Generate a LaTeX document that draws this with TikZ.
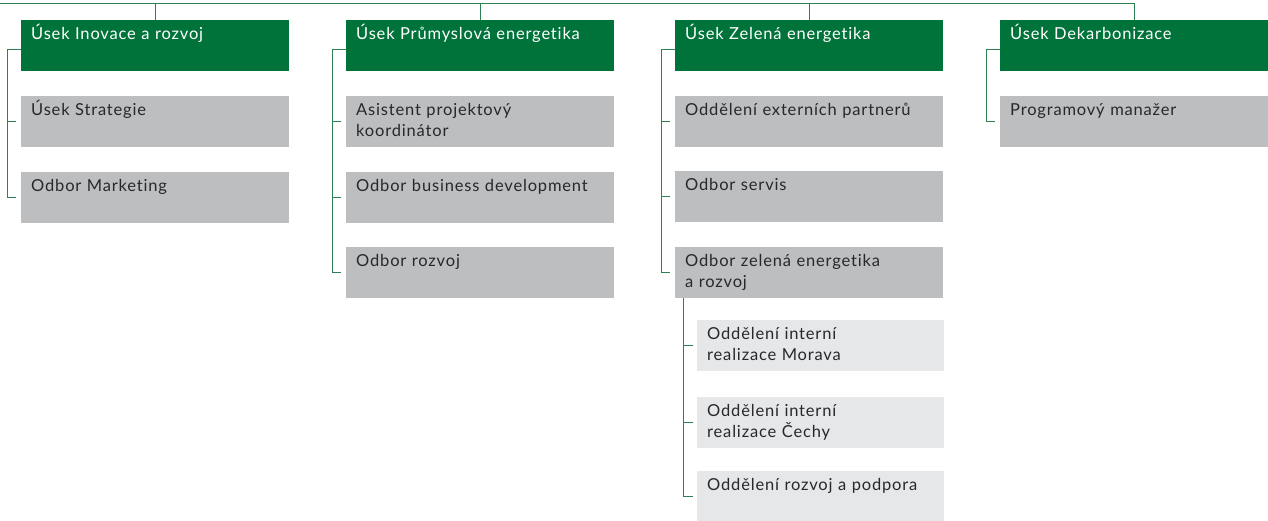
\documentclass[tikz,border=0pt]{standalone}
\usepackage{fontspec}
\setmainfont[LetterSpace=5, Ligatures=CommonOff]{Lato}
\usepackage{xcolor}
\usepackage{tikz}

\definecolor{ceGreen}{RGB}{0,115,58}
\definecolor{ceGray}{RGB}{189,190,192}
\definecolor{ceLight}{RGB}{230,231,232}
\definecolor{ceLine}{RGB}{46,128,82}
\definecolor{ceText}{RGB}{40,40,42}

\begin{document}
\begin{tikzpicture}[x=1pt, y=-1pt,
		unit/.style={anchor=north west, text width=248pt, inner xsep=10pt, inner ysep=0pt,
			text height=19pt, text depth=32pt, align=left, font=\fontsize{16.5}{21}\selectfont},
		head/.style={unit, fill=ceGreen, text=white},
		dept/.style={unit, fill=ceGray, text=ceText},
		team/.style={unit, text width=227pt, fill=ceLight, text=ceText},
		link/.style={draw=ceLine, line width=0.9pt}]

			\useasboundingbox (0,0) rectangle (1268,520);

			% useky
			\begin{scope}
				\node[head] (i0) at (21,20) {Úsek Inovace a rozvoj};
				\node[dept] (i1) at (21,96) {Úsek Strategie};
				\node[dept] (i2) at (21,172) {Odbor Marketing};

				\node[head] (p0) at (346,20) {Úsek Průmyslová energetika};
				\node[dept] (p1) at (346,96) {Asistent projektový\\koordinátor};
				\node[dept] (p2) at (346,172) {Odbor business development};
				\node[dept] (p3) at (346,247) {Odbor rozvoj};

				\node[head] (z0) at (675,20) {Úsek Zelená energetika};
				\node[dept] (z1) at (675,96) {Oddělení externích partnerů};
				\node[dept] (z2) at (675,171) {Odbor servis};
				\node[dept] (z3) at (675,247) {Odbor zelená energetika\\a rozvoj};

				\node[head] (d0) at (1000,20) {Úsek Dekarbonizace};
				\node[dept] (d1) at (1000,96) {Programový manažer};
			\end{scope}

			% oddeleni
			\begin{scope}
				\node[team] (t1) at (697,320) {Oddělení interní\\realizace Morava};
				\node[team] (t2) at (697,397) {Oddělení interní\\realizace Čechy};
				\node[team] (t3) at (697,471) {Oddělení rozvoj a podpora};
			\end{scope}

			% spojnice
			\begin{scope}[link]
				\coordinate (bus) at (0,3);
				\draw (bus) -- (bus -| d0.north) -- (d0.north);
				\foreach \n in {i0,p0,z0}
				{
					\draw (bus -| \n.north) -- (\n.north);
				}

				\foreach \h/\last in {i0/i2, p0/p3, z0/z3, d0/d1}
				{
					\draw ([yshift=-4pt]\h.west) -- ++(-14,0) |- ([xshift=-5pt]\last.west);
				}
				\foreach \n in {i1, p1, p2, z1, z2}
				{
					\draw ([xshift=-5pt]\n.west) -- ++(-9,0);
				}

				\draw ([xshift=8pt]z3.south west) |- ([xshift=-4pt]t3.west);
				\foreach \n in {t1, t2}
				{
					\draw ([xshift=-4pt]\n.west) -- ++(-10,0);
				}
			\end{scope}
		\end{tikzpicture}
\end{document}
